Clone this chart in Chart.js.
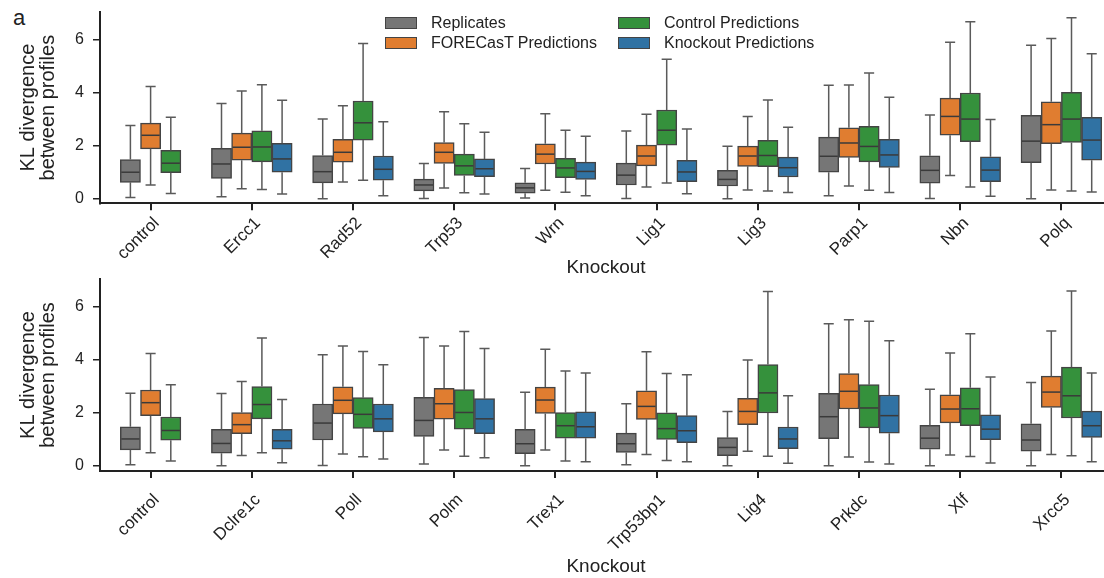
<!DOCTYPE html>
<html>
<head>
<meta charset="utf-8">
<script src="https://cdn.jsdelivr.net/npm/chart.js@4"></script>
<style>
  body { margin: 0; overflow: hidden; background: #fff; font-family: "Liberation Sans", Arial, sans-serif; color: #222; }
  .panel { position: absolute; left: 0; width: 1112px; }
  #panelLetter { position: absolute; left: 13px; top: 7px; font-size: 22px; line-height: 22px; }
  #legend { position: absolute; left: 385px; top: 14px; width: 460px; height: 42px; }
  .item { position: absolute; font-size: 16px; line-height: 20px; white-space: nowrap; }
  .swatch { position: absolute; left: 0; top: 3px; width: 30px; height: 10px; border: 1.5px solid #444; }
  .item span.txt { position: absolute; left: 46px; top: -1px; }
</style>
</head>
<body>
<div id="panelLetter">a</div>
<div class="panel" style="top:0;height:279px"><canvas id="topChart" width="1112" height="279"></canvas></div>
<div class="panel" style="top:272px;height:306px"><canvas id="bottomChart" width="1112" height="306"></canvas></div>
<div id="legend"></div>
<script>
// five-number summaries per box: [whisker low, q1, median, q3, whisker high]
const seriesNames = ['Replicates', 'FORECasT Predictions', 'Control Predictions', 'Knockout Predictions'];
const seriesColors = ['#767676', '#e07d30', '#35913c', '#3072a3'];

const topKnockouts = ['control', 'Ercc1', 'Rad52', 'Trp53', 'Wrn', 'Lig1', 'Lig3', 'Parp1', 'Nbn', 'Polq'];
const topReplicates = [
    [0.05, 0.62, 1.0, 1.48, 2.76], [0.08, 0.77, 1.31, 1.90, 3.59], [0.0, 0.6, 1.02, 1.63, 3.0],
    [0.01, 0.3, 0.52, 0.74, 1.33], [0.03, 0.21, 0.41, 0.6, 1.14], [0.01, 0.52, 0.89, 1.34, 2.55],
    [0.0, 0.48, 0.73, 1.07, 1.98], [0.11, 1.0, 1.6, 2.32, 4.27], [0.01, 0.59, 1.07, 1.62, 3.15],
    [0.0, 1.36, 2.17, 3.14, 5.78]
];
const topForecast = [
    [0.52, 1.88, 2.39, 2.85, 4.23], [0.38, 1.45, 1.94, 2.47, 4.06], [0.63, 1.38, 1.75, 2.24, 3.5],
    [0.41, 1.33, 1.75, 2.12, 3.28], [0.32, 1.31, 1.68, 2.07, 3.2], [0.44, 1.24, 1.61, 2.02, 3.18],
    [0.33, 1.22, 1.61, 1.98, 3.1], [0.48, 1.56, 2.1, 2.67, 4.28], [0.88, 2.39, 3.1, 3.79, 5.89],
    [0.33, 2.07, 2.79, 3.65, 6.03]
];
const topControlPred = [
    [0.2, 0.98, 1.34, 1.82, 3.07], [0.35, 1.39, 1.95, 2.56, 4.29], [0.7, 2.21, 2.86, 3.68, 5.84],
    [0.23, 0.88, 1.24, 1.68, 2.82], [0.25, 0.79, 1.16, 1.52, 2.58], [0.59, 2.02, 2.58, 3.34, 5.25],
    [0.29, 1.21, 1.63, 2.2, 3.72], [0.32, 1.39, 1.97, 2.73, 4.73], [0.44, 2.15, 3.0, 3.98, 6.66],
    [0.29, 2.12, 3.0, 4.01, 6.81]
];
const topKnockoutPred = [
    null, [0.18, 1.0, 1.5, 2.09, 3.71], [0.11, 0.7, 1.11, 1.61, 2.9],
    [0.18, 0.83, 1.13, 1.5, 2.5], [0.11, 0.73, 1.03, 1.38, 2.35], [0.19, 0.64, 1.01, 1.45, 2.63],
    [0.24, 0.82, 1.17, 1.57, 2.69], [0.24, 1.18, 1.65, 2.24, 3.82], [0.1, 0.64, 1.08, 1.58, 2.98],
    [0.26, 1.45, 2.21, 3.07, 5.46]
];

const bottomKnockouts = ['control', 'Dclre1c', 'Poll', 'Polm', 'Trex1', 'Trp53bp1', 'Lig4', 'Prkdc', 'Xlf', 'Xrcc5'];
const bottomReplicates = [
    [0.04, 0.6, 1.01, 1.47, 2.74], [0.0, 0.47, 0.84, 1.37, 2.73], [0.01, 0.97, 1.61, 2.33, 4.19],
    [0.06, 1.11, 1.71, 2.58, 4.84], [0.0, 0.45, 0.83, 1.37, 2.77], [0.04, 0.5, 0.83, 1.23, 2.34],
    [0.0, 0.38, 0.69, 1.06, 2.05], [0.0, 1.02, 1.85, 2.73, 5.36], [0.0, 0.62, 1.04, 1.52, 2.89],
    [0.0, 0.55, 0.97, 1.58, 3.14]
];
const bottomForecast = [
    [0.49, 1.89, 2.38, 2.86, 4.24], [0.39, 1.21, 1.55, 2.01, 3.18], [0.44, 1.96, 2.47, 2.98, 4.52],
    [0.59, 1.76, 2.34, 2.92, 4.52], [0.59, 1.97, 2.48, 2.97, 4.4], [0.42, 1.75, 2.24, 2.83, 4.3],
    [0.55, 1.55, 2.05, 2.54, 3.99], [0.33, 2.14, 2.81, 3.48, 5.51], [0.4, 1.62, 2.14, 2.68, 4.26],
    [0.42, 2.2, 2.78, 3.38, 5.09]
];
const bottomControlPred = [
    [0.18, 0.96, 1.33, 1.84, 3.06], [0.49, 1.77, 2.31, 2.99, 4.82], [0.34, 1.41, 1.94, 2.57, 4.31],
    [0.36, 1.38, 2.01, 2.87, 5.07], [0.18, 1.04, 1.51, 2.01, 3.58], [0.2, 0.99, 1.4, 2.0, 3.48],
    [0.36, 1.99, 2.75, 3.82, 6.58], [0.14, 1.43, 2.18, 3.06, 5.45], [0.35, 1.51, 2.15, 2.94, 4.98],
    [0.38, 1.8, 2.64, 3.72, 6.6]
];
const bottomKnockoutPred = [
    null, [0.11, 0.62, 0.94, 1.37, 2.5], [0.25, 1.28, 1.77, 2.33, 3.81],
    [0.3, 1.21, 1.77, 2.53, 4.43], [0.15, 1.04, 1.47, 2.03, 3.5], [0.15, 0.87, 1.32, 1.89, 3.43],
    [0.09, 0.64, 1.01, 1.46, 2.64], [0.06, 1.23, 1.89, 2.67, 4.72], [0.1, 0.98, 1.38, 1.92, 3.35],
    [0.15, 1.07, 1.51, 2.06, 3.5]
];

const yTickValues = [0, 2, 4, 6];
const textColor = '#222';
const fontFamily = '"Liberation Sans", Arial, sans-serif';

// whiskers, caps and median lines drawn on top of the floating bars
const boxWhiskers = {
    id: 'boxWhiskers',
    afterDatasetsDraw(chart) {
        const ctx = chart.ctx;
        const yScale = chart.scales.y;
        chart.data.datasets.forEach((ds, di) => {
            const meta = chart.getDatasetMeta(di);
            meta.data.forEach((bar, i) => {
                const s = ds.stats[i];
                if (!s) return;
                const [lo, q1, med, q3, hi] = s.map(v => yScale.getPixelForValue(v));
                const half = bar.width / 2;
                const cap = bar.width / 4;
                ctx.save();
                ctx.lineWidth = 1.5;
                ctx.strokeStyle = '#5a5a5a';
                ctx.beginPath();
                ctx.moveTo(bar.x, q3); ctx.lineTo(bar.x, hi);
                ctx.moveTo(bar.x - cap, hi); ctx.lineTo(bar.x + cap, hi);
                ctx.moveTo(bar.x, q1); ctx.lineTo(bar.x, lo);
                ctx.moveTo(bar.x - cap, lo); ctx.lineTo(bar.x + cap, lo);
                ctx.stroke();
                ctx.strokeStyle = '#3a3a3a';
                ctx.beginPath();
                ctx.moveTo(bar.x - half + 1, med); ctx.lineTo(bar.x + half - 1, med);
                ctx.stroke();
                ctx.restore();
            });
        });
    }
};

function makeChart(id, labels, series, yMin, yMax, padTop, xHeight, labelPad) {
    const datasets = series.map((stats, k) => ({
        label: seriesNames[k],
        data: stats.map(s => s ? [s[1], s[3]] : null),
        stats: stats,
        backgroundColor: seriesColors[k],
        borderColor: '#444',
        borderWidth: 1.5,
        borderSkipped: false,
        barThickness: 20.2,
        skipNull: true
    }));
    return new Chart(document.getElementById(id), {
        type: 'bar',
        data: { labels: labels, datasets: datasets },
        options: {
            responsive: false,
            animation: false,
            devicePixelRatio: 1,
            layout: { padding: { top: padTop, left: 0, right: 0, bottom: 0 } },
            plugins: { legend: { display: false }, tooltip: { enabled: false } },
            scales: {
                x: {
                    offset: true,
                    afterFit: scale => { scale.height = xHeight; scale.paddingLeft = 0; scale.paddingRight = 0; },
                    border: { display: true, color: textColor, width: 2 },
                    grid: { offset: false, drawOnChartArea: false, drawTicks: true, tickLength: 7, color: textColor, lineWidth: 2 },
                    ticks: { minRotation: 45, maxRotation: 45, padding: labelPad, labelOffset: 6, color: textColor, font: { family: fontFamily, size: 17 } },
                    title: { display: true, text: 'Knockout', color: textColor, padding: 0, font: { family: fontFamily, size: 19, lineHeight: 1.2 } }
                },
                y: {
                    min: yMin,
                    max: yMax,
                    afterFit: scale => { scale.width = 100; scale.paddingTop = 0; scale.paddingBottom = 0; },
                    afterBuildTicks: scale => { scale.ticks = yTickValues.map(v => ({ value: v })); },
                    border: { display: true, color: textColor, width: 2 },
                    grid: { drawOnChartArea: false, drawTicks: true, tickLength: 7, color: textColor, lineWidth: 1.5 },
                    ticks: { padding: 9, color: textColor, font: { family: fontFamily, size: 16 } },
                    title: { display: true, text: ['KL divergence', 'between profiles'], color: textColor, padding: { top: 18, bottom: 0 }, font: { family: fontFamily, size: 20, lineHeight: 1.0 } }
                }
            }
        },
        plugins: [boxWhiskers]
    });
}

const topChart = makeChart('topChart', topKnockouts,
    [topReplicates, topForecast, topControlPred, topKnockoutPred], -0.17, 7.03, 12, 75.7, 3);
makeChart('bottomChart', bottomKnockouts,
    [bottomReplicates, bottomForecast, bottomControlPred, bottomKnockoutPred], -0.2, 7.05, 7, 107, 12);

// two-column legend built from the top chart's datasets
const legend = document.getElementById('legend');
topChart.data.datasets.forEach((ds, k) => {
    const item = document.createElement('div');
    item.className = 'item';
    item.style.left = (k < 2 ? 0 : 233) + 'px';
    item.style.top = (k % 2) * 20 + 'px';
    item.innerHTML = '<div class="swatch" style="background:' + ds.backgroundColor + '"></div><span class="txt">' + ds.label + '</span>';
    legend.appendChild(item);
});
</script>
</body>
</html>
